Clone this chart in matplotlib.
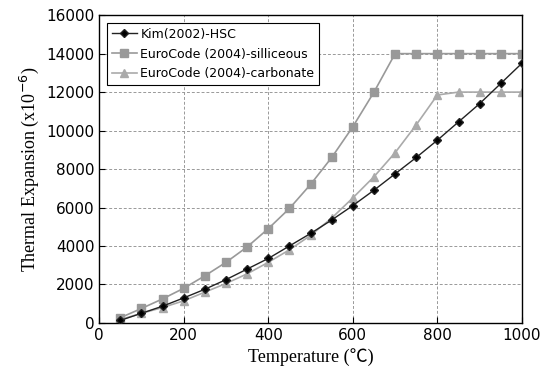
import numpy as np
import matplotlib.pyplot as plt

temps = [50, 100, 150, 200, 250, 300, 350, 400, 450, 500,
         550, 600, 650, 700, 750, 800, 850, 900, 950, 1000]

kim_hsc = [130, 500, 870, 1300, 1750, 2250, 2800, 3350, 4000, 4650,
           5350, 6100, 6900, 7750, 8600, 9500, 10450, 11400, 12450, 13500]
ec_silliceous = [270, 750, 1250, 1800, 2450, 3150, 3950, 4900, 5950, 7200,
                 8600, 10200, 12000, 14000, 14000, 14000, 14000, 14000, 14000, 14000]
ec_carbonate = [170, 500, 800, 1150, 1600, 2050, 2550, 3150, 3800, 4550,
                5450, 6500, 7600, 8850, 10300, 11850, 12000, 12000, 12000, 12000]

serif = ['Liberation Serif', 'Noto Sans CJK KR']

fig = plt.figure(figsize=(5.42, 3.79), dpi=100)
ax = fig.add_axes([0.183, 0.148, 0.78, 0.812])

ax.plot(temps, ec_silliceous, color='#999999', marker='s', markersize=5.5,
        lw=1.2, label='EuroCode (2004)-silliceous', zorder=2)
ax.plot(temps, ec_carbonate, color='#aaaaaa', marker='^', markersize=5.5,
        lw=1.2, label='EuroCode (2004)-carbonate', zorder=2)
ax.plot(temps, kim_hsc, color='#222222', marker='D', markersize=4.5,
        markerfacecolor='black', lw=1.0, label='Kim(2002)-HSC', zorder=3)

ax.set_xlim(0, 1000)
ax.set_ylim(0, 16000)
ax.set_xticks(np.arange(0, 1001, 200))
ax.set_yticks(np.arange(0, 16001, 2000))
ax.grid(True, color='#999999', linestyle=(0, (3, 2)), linewidth=0.7)
ax.tick_params(direction='in', labelsize=11, colors='black', length=4)
for s in ax.spines.values():
    s.set_linewidth(1.0)

ax.set_xlabel('Temperature (℃)', family=serif, fontsize=13)
ax.set_ylabel('Thermal Expansion (x10$^{-6}$)', family=serif, fontsize=13)

h, l = ax.get_legend_handles_labels()
order = [2, 0, 1]
leg = ax.legend([h[i] for i in order], [l[i] for i in order],
                loc='upper left', fontsize=9, fancybox=False,
                edgecolor='black', framealpha=1, borderaxespad=0.6,
                handlelength=2.0, labelspacing=0.55, handletextpad=0.3)
leg.get_frame().set_linewidth(0.8)

plt.savefig('out.png', dpi=100)
